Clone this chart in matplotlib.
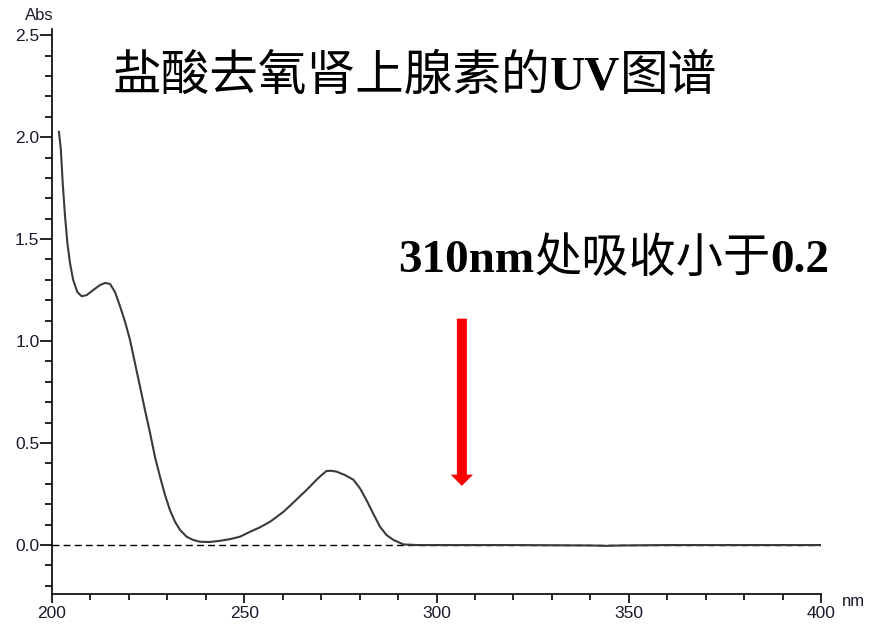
import matplotlib
matplotlib.use("Agg")
import matplotlib.pyplot as plt
from matplotlib.ticker import MultipleLocator, FormatStrFormatter

# wavelength (nm) and absorbance
wavelength = [201.8, 202.3, 202.8, 203.4, 204.0, 204.7, 205.5, 206.6, 207.7, 209.0,
              210.7, 212.5, 213.8, 215.1, 216.4, 217.7, 219.0, 220.3, 221.6, 222.9,
              224.2, 225.5, 226.8, 228.1, 229.4, 230.7, 232.0, 233.3, 235.0, 236.7,
              238.5, 241.1, 243.7, 246.3, 248.9, 251.5, 254.1, 256.7, 260.2, 263.2,
              266.2, 268.8, 270.1, 271.4, 272.7, 274.0, 276.2, 278.4, 280.1, 281.8,
              283.6, 285.3, 287.0, 288.8, 291.4, 295.0, 300.0, 320.0, 340.0, 344.0,
              348.0, 360.0, 400.0]
absorbance = [2.026, 1.94, 1.77, 1.61, 1.48, 1.38, 1.30, 1.24, 1.22, 1.225,
              1.25, 1.275, 1.285, 1.28, 1.24, 1.17, 1.095, 1.005, 0.89, 0.776,
              0.66, 0.55, 0.43, 0.335, 0.245, 0.17, 0.114, 0.074, 0.041, 0.025,
              0.016, 0.015, 0.021, 0.029, 0.041, 0.065, 0.087, 0.114, 0.163, 0.216,
              0.27, 0.32, 0.343, 0.363, 0.364, 0.36, 0.343, 0.32, 0.278, 0.22,
              0.152, 0.09, 0.049, 0.025, 0.003, 0.0, 0.0, 0.0, -0.002, -0.004,
              -0.002, 0.0, 0.0]

title_runs = [("盐酸去氧肾上腺素的", "cjk"), ("UV", "latin"), ("图谱", "cjk")]
note_runs = [("310nm", "latin"), ("处吸收小于", "cjk"), ("0.2", "latin")]
arrow_x = 306.6
arrow_top, arrow_bottom = 1.11, 0.29

fig = plt.figure(figsize=(8.74, 6.24), dpi=100)
ax = fig.add_axes([52 / 874, 1 - 594 / 624, 769 / 874, (594 - 29) / 624])

ax.axhline(0, color="black", lw=1.0, ls=(0, (5, 3)))
ax.plot(wavelength, absorbance, color="#3a3a3a", lw=1.5)

ax.set_xlim(200, 400)
ax.set_ylim(-0.24, 2.53)
ax.xaxis.set_major_locator(MultipleLocator(50))
ax.xaxis.set_minor_locator(MultipleLocator(10))
ax.yaxis.set_major_locator(MultipleLocator(0.5))
ax.yaxis.set_minor_locator(MultipleLocator(0.1))
ax.yaxis.set_major_formatter(FormatStrFormatter("%.1f"))
for s in ["top", "right"]:
    ax.spines[s].set_visible(False)
for s in ["left", "bottom"]:
    ax.spines[s].set_linewidth(1.2)
ax.tick_params(axis="y", which="major", length=9, width=1.2, labelsize=12.5,
               labelcolor="#1a1a2a", pad=0)
ax.tick_params(axis="y", which="minor", length=5, width=1.2)
ax.tick_params(axis="x", which="major", length=6.5, width=1.2, labelsize=12.5,
               labelcolor="#1a1a2a", pad=2)
ax.tick_params(axis="x", which="minor", length=4.3, width=1.2)
for lab in ax.get_xticklabels() + ax.get_yticklabels():
    lab.set_family("Liberation Sans")

fig.text(39 / 874, 1 - 15 / 624, "Abs", family="Liberation Sans", fontsize=12,
         color="#1a1a2a", ha="center", va="center")
fig.text(853 / 874, 1 - 602 / 624, "nm", family="Liberation Sans", fontsize=12,
         color="#1a1a2a", ha="center", va="center")

ax.arrow(arrow_x, arrow_top, 0, arrow_bottom - arrow_top, width=2.6,
         head_width=5.8, head_length=0.055, length_includes_head=True,
         color="red", lw=0)

renderer = fig.canvas.get_renderer()


def put_runs(x_px, y_base, runs, size):
    x = x_px
    for s, kind in runs:
        if kind == "latin":
            kw = dict(family="Liberation Serif", weight="bold")
        else:
            kw = dict(family="Noto Sans CJK SC", weight="normal")
        t = fig.text(x / 874, y_base, s, fontsize=size, ha="left",
                     va="baseline", color="black", **kw)
        bb = t.get_window_extent(renderer=renderer)
        x = bb.x1


put_runs(112, 1 - 90 / 624, title_runs, 35)
put_runs(398, 1 - 272 / 624, note_runs, 34)

fig.savefig("out.png", dpi=100)
